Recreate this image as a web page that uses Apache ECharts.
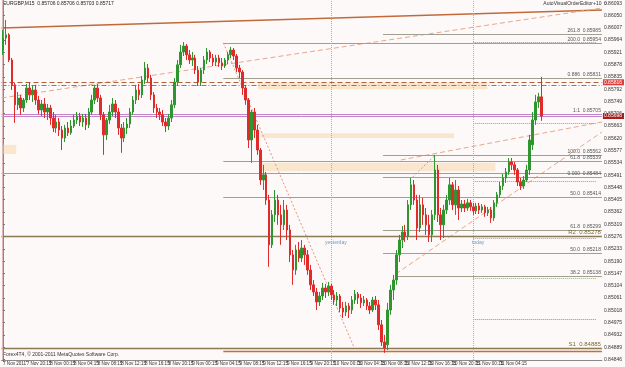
<!DOCTYPE html>
<html><head><meta charset="utf-8">
<script src="https://cdn.jsdelivr.net/npm/echarts@6/dist/echarts.min.js"></script>
<style>html,body{margin:0;padding:0;background:#fdf9f9}#c{width:625px;height:367px}</style>
</head><body><div id="c"></div>
<script>
// ---------- data ----------
const symbolTitle = 'EURGBP,M15  0.85706 0.85706 0.85703 0.85717';
const editorText = 'AutoVisualOrderEditor+10 \u263A';
const footerText = 'Forex4T4, \u00A9 2001-2011 MetaQuotes Software Corp.';
const firstBarUTC = Date.UTC(2011, 10, 7, 16, 15);
const barMinutes = 30;
const totalSlots = 203;
const timeLabels = ['7 Nov 2011','7 Nov 20:15','8 Nov 00:15','8 Nov 04:15','8 Nov 08:15','8 Nov 12:15','8 Nov 16:15','8 Nov 20:15','9 Nov 00:15','9 Nov 04:15','9 Nov 08:15','9 Nov 12:15','9 Nov 16:15','9 Nov 20:15','10 Nov 00:15','10 Nov 04:15','10 Nov 08:15','10 Nov 12:15','10 Nov 16:15','10 Nov 20:15','11 Nov 00:15','11 Nov 04:15','11 Nov 08:15'];
const yTicks = [0.86093,0.86050,0.86007,0.85964,0.85921,0.85878,0.85835,0.85792,0.85749,0.85706,0.85663,0.85620,0.85577,0.85534,0.85491,0.85448,0.85405,0.85362,0.85319,0.85276,0.85233,0.85190,0.85147,0.85104,0.85061,0.85018,0.84975,0.84932,0.84889,0.84846];
const yMin = 0.84844, yMax = 0.86104;
// [open, close, low, high]
const candles = [
[0.85929,0.85971,0.85912,0.85999],[0.85971,0.85982,0.85947,0.86034],[0.85982,0.85894,0.85887,0.85988],[0.85894,0.85807,0.85789,0.85901],
[0.85807,0.85737,0.85674,0.85814],[0.85737,0.85761,0.85719,0.85782],[0.85761,0.85726,0.85702,0.85772],[0.85726,0.85754,0.85712,0.85761],
[0.85754,0.85796,0.85744,0.85810],[0.85796,0.85772,0.85754,0.85817],[0.85772,0.85789,0.85747,0.85803],[0.85789,0.85754,0.85737,0.85807],
[0.85754,0.85719,0.85705,0.85768],[0.85719,0.85740,0.85698,0.85754],[0.85740,0.85712,0.85691,0.85761],[0.85712,0.85726,0.85684,0.85740],
[0.85726,0.85691,0.85667,0.85737],[0.85691,0.85656,0.85642,0.85712],[0.85656,0.85677,0.85639,0.85702],[0.85677,0.85649,0.85628,0.85691],
[0.85649,0.85621,0.85579,0.85663],[0.85621,0.85656,0.85607,0.85667],[0.85656,0.85639,0.85628,0.85677],[0.85639,0.85663,0.85632,0.85684],
[0.85663,0.85684,0.85656,0.85702],[0.85684,0.85698,0.85670,0.85712],[0.85698,0.85677,0.85663,0.85709],[0.85677,0.85691,0.85660,0.85705],
[0.85691,0.85667,0.85649,0.85705],[0.85667,0.85712,0.85656,0.85726],[0.85712,0.85754,0.85702,0.85772],[0.85754,0.85796,0.85740,0.85807],
[0.85796,0.85761,0.85747,0.85810],[0.85761,0.85702,0.85684,0.85772],[0.85702,0.85632,0.85562,0.85712],[0.85632,0.85684,0.85614,0.85691],
[0.85684,0.85712,0.85670,0.85737],[0.85712,0.85740,0.85698,0.85761],[0.85740,0.85712,0.85691,0.85754],[0.85712,0.85656,0.85632,0.85726],
[0.85656,0.85621,0.85569,0.85670],[0.85621,0.85656,0.85607,0.85677],[0.85656,0.85670,0.85635,0.85691],[0.85670,0.85712,0.85656,0.85726],
[0.85712,0.85754,0.85702,0.85768],[0.85754,0.85789,0.85740,0.85807],[0.85789,0.85772,0.85754,0.85810],[0.85772,0.85824,0.85761,0.85838],
[0.85824,0.85866,0.85810,0.85887],[0.85866,0.85831,0.85817,0.85880],[0.85831,0.85772,0.85754,0.85842],[0.85772,0.85726,0.85709,0.85782],
[0.85726,0.85712,0.85691,0.85740],[0.85712,0.85702,0.85684,0.85726],[0.85702,0.85677,0.85663,0.85719],[0.85677,0.85663,0.85642,0.85691],
[0.85663,0.85691,0.85649,0.85705],[0.85691,0.85737,0.85677,0.85754],[0.85737,0.85817,0.85726,0.85831],[0.85817,0.85877,0.85803,0.85894],
[0.85877,0.85922,0.85866,0.85947],[0.85922,0.85943,0.85908,0.85957],[0.85943,0.85912,0.85894,0.85950],[0.85912,0.85894,0.85880,0.85929],
[0.85894,0.85901,0.85873,0.85922],[0.85901,0.85859,0.85845,0.85912],[0.85859,0.85817,0.85803,0.85873],[0.85817,0.85859,0.85803,0.85866],
[0.85859,0.85894,0.85845,0.85908],[0.85894,0.85922,0.85880,0.85936],[0.85922,0.85901,0.85887,0.85929],[0.85901,0.85887,0.85873,0.85915],
[0.85887,0.85901,0.85873,0.85912],[0.85901,0.85884,0.85870,0.85912],[0.85884,0.85873,0.85859,0.85901],[0.85873,0.85894,0.85866,0.85901],
[0.85894,0.85912,0.85880,0.85922],[0.85912,0.85929,0.85901,0.85940],[0.85929,0.85908,0.85894,0.85936],[0.85908,0.85866,0.85852,0.85915],
[0.85866,0.85852,0.85831,0.85877],[0.85852,0.85796,0.85772,0.85859],[0.85796,0.85754,0.85737,0.85807],[0.85754,0.85614,0.85586,0.85761],
[0.85614,0.85712,0.85534,0.85719],[0.85712,0.85649,0.85621,0.85726],[0.85649,0.85579,0.85562,0.85667],[0.85579,0.85474,0.85457,0.85586],
[0.85474,0.85492,0.85439,0.85527],[0.85492,0.85404,0.85387,0.85502],[0.85404,0.85247,0.85170,0.85422],[0.85247,0.85352,0.85236,0.85369],
[0.85352,0.85404,0.85327,0.85439],[0.85404,0.85352,0.85317,0.85422],[0.85352,0.85317,0.85247,0.85387],[0.85317,0.85369,0.85299,0.85404],
[0.85369,0.85299,0.85264,0.85387],[0.85299,0.85212,0.85187,0.85317],[0.85212,0.85159,0.85107,0.85229],[0.85159,0.85229,0.85142,0.85247],
[0.85229,0.85201,0.85187,0.85257],[0.85201,0.85236,0.85187,0.85264],[0.85236,0.85212,0.85177,0.85247],[0.85212,0.85159,0.85142,0.85229],
[0.85159,0.85107,0.85089,0.85177],[0.85107,0.85082,0.85068,0.85124],[0.85082,0.85047,0.85019,0.85096],[0.85047,0.85068,0.85033,0.85082],
[0.85068,0.85096,0.85054,0.85114],[0.85096,0.85082,0.85061,0.85110],[0.85082,0.85103,0.85068,0.85117],[0.85103,0.85072,0.85054,0.85110],
[0.85072,0.85054,0.85037,0.85089],[0.85054,0.85068,0.85033,0.85082],[0.85068,0.85026,0.85012,0.85075],[0.85026,0.85012,0.84991,0.85047],
[0.85012,0.85033,0.84998,0.85047],[0.85033,0.85019,0.84991,0.85044],[0.85019,0.85054,0.85005,0.85068],[0.85054,0.85075,0.85040,0.85089],
[0.85075,0.85061,0.85040,0.85082],[0.85061,0.85044,0.85026,0.85075],[0.85044,0.85054,0.85033,0.85068],[0.85054,0.85033,0.85019,0.85061],
[0.85033,0.85019,0.85005,0.85047],[0.85019,0.85054,0.85012,0.85065],[0.85054,0.85037,0.85019,0.85068],[0.85037,0.84967,0.84949,0.85054],
[0.84967,0.84907,0.84893,0.84984],[0.84907,0.84886,0.84869,0.84932],[0.84897,0.85019,0.84879,0.85044],[0.85019,0.85089,0.85002,0.85107],
[0.85089,0.85124,0.85054,0.85142],[0.85124,0.85212,0.85107,0.85229],[0.85212,0.85264,0.85187,0.85282],[0.85264,0.85292,0.85236,0.85313],
[0.85292,0.85278,0.85257,0.85317],[0.85278,0.85387,0.85264,0.85404],[0.85387,0.85457,0.85369,0.85481],[0.85457,0.85404,0.85387,0.85474],
[0.85404,0.85306,0.85264,0.85422],[0.85306,0.85387,0.85292,0.85422],[0.85387,0.85352,0.85317,0.85411],[0.85352,0.85317,0.85282,0.85376],
[0.85317,0.85282,0.85257,0.85352],[0.85282,0.85352,0.85257,0.85369],[0.85352,0.85509,0.85334,0.85562],[0.85509,0.85352,0.85327,0.85527],
[0.85352,0.85317,0.85264,0.85376],[0.85317,0.85369,0.85271,0.85387],[0.85369,0.85404,0.85355,0.85422],[0.85404,0.85457,0.85387,0.85481],
[0.85457,0.85387,0.85369,0.85467],[0.85387,0.85439,0.85352,0.85474],[0.85439,0.85376,0.85334,0.85453],[0.85376,0.85390,0.85362,0.85404],
[0.85390,0.85376,0.85362,0.85404],[0.85376,0.85394,0.85366,0.85408],[0.85394,0.85380,0.85366,0.85404],[0.85380,0.85366,0.85352,0.85394],
[0.85366,0.85383,0.85355,0.85394],[0.85383,0.85369,0.85355,0.85394],[0.85369,0.85380,0.85359,0.85390],[0.85380,0.85359,0.85345,0.85387],
[0.85359,0.85369,0.85348,0.85380],[0.85369,0.85341,0.85324,0.85380],[0.85341,0.85394,0.85331,0.85404],[0.85394,0.85422,0.85380,0.85432],
[0.85422,0.85453,0.85411,0.85467],[0.85453,0.85481,0.85439,0.85495],[0.85481,0.85502,0.85464,0.85516],[0.85502,0.85537,0.85492,0.85551],
[0.85537,0.85527,0.85509,0.85551],[0.85527,0.85509,0.85492,0.85537],[0.85509,0.85467,0.85453,0.85516],[0.85467,0.85453,0.85439,0.85481],
[0.85453,0.85474,0.85443,0.85488],[0.85474,0.85509,0.85467,0.85527],[0.85509,0.85614,0.85492,0.85632],[0.85597,0.85684,0.85579,0.85712],
[0.85684,0.85747,0.85667,0.85772],[0.85747,0.85765,0.85726,0.85779],[0.85765,0.85698,0.85681,0.85835]
];
const bidPrice = 0.85698;
// trend lines: [[barIndex, price], [barIndex, price]]
const trendSolid = [[-0.5, 0.86006], [202.5, 0.86069]];
const trendDashed = [[-0.5, 0.85761], [202.5, 0.86076]];
const fallDotted = [[74.5, 0.85954], [118.8, 0.84886]];
const channelUpper = [[134.5, 0.85544], [202.5, 0.85677]];
const channelLower = [[132.8, 0.85145], [202.5, 0.85642]];
const shortDotted = [[138.5, 0.85484], [146.2, 0.85562]];
// fibonacci levels
const fibPrices = [0.85985, 0.85954, 0.85831, 0.85562, 0.85539, 0.85484, 0.85414, 0.85299, 0.85218, 0.85138];
const fibStart  = [128.5, 74.5, 74.5, 128.5, 74.5, 128.5, 74.5, 128.5, 128.5, 132.8];
const fibText   = ['261.8  0.85985','200.0  0.85954','0.886  0.85831','100.0  0.85562','61.8  0.85539','0.000  0.85484','50.0  0.85414','61.8  0.85299','50.0  0.85218','38.2  0.85138'];
// pivot levels
const pivotPrices = [0.85278, 0.84885, 0.84874];
const pivotStart  = [-0.5, -0.5, 74.5];
const pivotText   = ['R2  0.85278', 'S1  0.84885', ''];
// purple levels
const purplePrices = [0.85705, 0.85698, 0.85498];
const purpleText = ['1:1  0.85705', '', ''];
// dotted levels starting today
const dottedPrices = [0.85957, 0.85674, 0.85470, 0.85271, 0.85131, 0.84987];
const dottedStart = 159;
// order lines
const orderPrices = [0.85816, 0.85804];
// zones: [x1, price1, x2, price2]
const zones = [[86.2, 0.85814, 163.8, 0.85792], [87.2, 0.85638, 152.5, 0.85621], [87.2, 0.85534, 166.5, 0.85505], [0.2, 0.85597, 4.5, 0.85565]];
const daySeparators = [111, 159];

// ---------- styles ----------
const FONT = 'Liberation Sans, Arial, sans-serif';
const dottedColors = ['#9a9a9a', '#9a9a9a', '#9a9a9a', '#a0a0a0', '#8fbf6a', '#a679c8'];
const rightEdge = totalSlots - 0.5;

const cats = [];
for (let i = 0; i < totalSlots; i++) {
  const d = new Date(firstBarUTC + i * barMinutes * 60000);
  cats.push(d.getUTCDate() + ' Nov ' + String(d.getUTCHours()).padStart(2, '0') + ':' + String(d.getUTCMinutes()).padStart(2, '0'));
}
const showLabel = (idx) => idx % 8 === 0 && idx / 8 < timeLabels.length;

function seg(x1, p, x2, color, type, width, label) {
  return [
    { coord: [x1, p], lineStyle: { color, type, width }, label: label || { show: false } },
    { coord: [x2, p] }
  ];
}
function lbl(text, color, size) {
  if (!text) return { show: false };
  return { show: true, position: 'insideEndTop', distance: 1, formatter: text, fontSize: size || 5, color: color || '#555', fontFamily: FONT };
}

const hLines = [];
fibPrices.forEach((p, i) => hLines.push(seg(fibStart[i], p, rightEdge, '#a09f90', 'solid', 1, lbl(fibText[i]))));
pivotPrices.forEach((p, i) => hLines.push(seg(pivotStart[i], p, rightEdge, i === 2 ? '#c0703a' : '#8c7a55', 'solid', 1.3, lbl(pivotText[i], '#7a6a30', 6))));
purplePrices.forEach((p, i) => hLines.push(seg(-0.5, p, rightEdge, '#c283c8', 'solid', 1, lbl(purpleText[i]))));
dottedPrices.forEach((p, i) => hLines.push(seg(dottedStart, p, rightEdge - 2, dottedColors[i], 'dotted', 1)));
hLines.push(seg(-0.5, orderPrices[0], rightEdge, '#b0603a', [5, 3], 1, {
  show: true, position: 'end', distance: 1, formatter: orderPrices[0].toFixed(5), fontSize: 5, color: '#fff',
  backgroundColor: '#e23b3b', padding: [1, 2, 0, 1], fontFamily: FONT
}));
hLines.push(seg(-0.5, orderPrices[1], rightEdge, '#8a7a6a', [5, 2, 1, 2], 1));
hLines.push(seg(-0.5, bidPrice, rightEdge, 'rgba(0,0,0,0)', 'solid', 1, {
  show: true, position: 'end', distance: 1, formatter: bidPrice.toFixed(5), fontSize: 5, color: '#fff',
  backgroundColor: '#a81e1e', padding: [1, 2, 0, 1], fontFamily: FONT
}));

const vLines = [{ xAxis: -0.35, lineStyle: { color: '#dcb8b8', type: 'solid', width: 1 } }];
daySeparators.forEach(x => vLines.push({ xAxis: x, lineStyle: { color: '#b8aaaa', type: 'dotted', width: 1 } }));

const areas = zones.map(z => [{ coord: [z[0], z[1]], itemStyle: { color: '#fae6cc' } }, { coord: [z[2], z[3]] }]);

function trend(data, color, type, width) {
  return { type: 'line', xAxisIndex: 1, yAxisIndex: 0, data, symbol: 'none', silent: true, animation: false, z: 3,
    lineStyle: { color, type, width } };
}

const chart = echarts.init(document.getElementById('c'), null, { renderer: 'canvas' });
chart.setOption({
  animation: false,
  backgroundColor: '#fdf9f9',
  textStyle: { fontFamily: FONT },
  grid: { left: 0, right: 15, top: 0, bottom: 7, containLabel: false },
  xAxis: [
    { type: 'category', data: cats, boundaryGap: true,
      axisLine: { lineStyle: { color: '#8a8a8a', width: 1 } },
      axisTick: { show: true, length: 2, interval: (i) => showLabel(i), alignWithLabel: true, lineStyle: { color: '#777' } },
      axisLabel: { show: true, showMinLabel: true, hideOverlap: false, interval: (i) => showLabel(i), formatter: (v, i) => timeLabels[i / 8] || '', fontSize: 4.6, color: '#333', margin: 1, align: 'left', fontFamily: FONT },
      splitLine: { show: false } },
    { type: 'value', min: -0.5, max: rightEdge, show: false }
  ],
  yAxis: { type: 'value', position: 'right', min: yMin, max: yMax, scale: true,
    axisLine: { show: true, lineStyle: { color: '#8a8a8a' } },
    axisTick: { show: true, length: 2, customValues: yTicks, lineStyle: { color: '#777' } },
    axisLabel: { customValues: yTicks, formatter: (v) => v.toFixed(5), fontSize: 5, color: '#333', margin: 2, fontFamily: FONT },
    splitLine: { show: false } },
  graphic: [
    { type: 'text', left: 3, top: 1, style: { text: symbolTitle, fontSize: 5, fill: '#222', font: '5px ' + FONT } },
    { type: 'text', right: 17, top: 1, style: { text: editorText, fontSize: 5, fill: '#333', font: '5px ' + FONT } },
    { type: 'text', left: 3, top: 352, style: { text: footerText, fontSize: 5, fill: '#333', font: '5px ' + FONT } },
    { type: 'text', left: 325, top: 240, style: { text: 'yesterday', fontSize: 5, fill: '#6f9cbf', font: '5px ' + FONT } },
    { type: 'text', left: 472, top: 240, style: { text: 'today', fontSize: 5, fill: '#6f9cbf', font: '5px ' + FONT } }
  ],
  series: [
    { type: 'line', xAxisIndex: 1, yAxisIndex: 0, data: [], silent: true, z: 1,
      markArea: { silent: true, data: areas },
      markLine: { silent: true, symbol: ['none', 'none'], animation: false, data: hLines.concat(vLines) } },
    trend(trendSolid, '#c2693a', 'solid', 1.6),
    trend(trendDashed, '#e6a88a', [5, 3], 1),
    trend(fallDotted, '#e2967e', [2, 2], 1),
    trend(channelUpper, '#e6a88a', [5, 3], 1),
    trend(channelLower, '#e6a88a', [5, 3], 1),
    trend(shortDotted, '#e2967e', [2, 2], 1),
    { type: 'candlestick', xAxisIndex: 0, yAxisIndex: 0, data: candles, barWidth: 2, z: 5, silent: true,
      itemStyle: { color: '#2f962f', color0: '#e12b2b', borderColor: '#2f962f', borderColor0: '#e12b2b', borderWidth: 1 } }
  ]
});
</script>
</body></html>
